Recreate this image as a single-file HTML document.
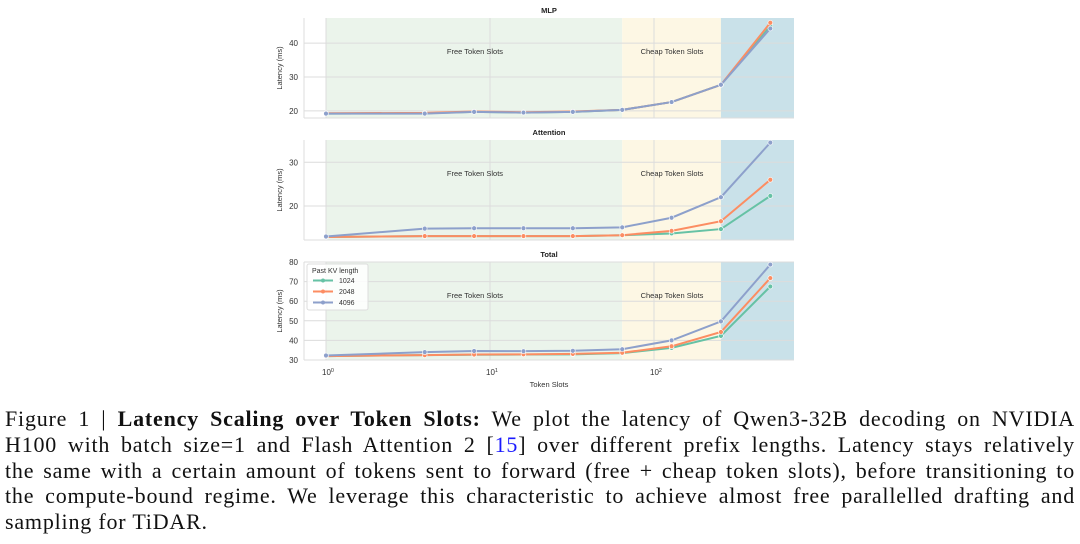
<!DOCTYPE html>
<html><head><meta charset="utf-8"><style>
body{margin:0;width:1080px;height:544px;background:#fff;overflow:hidden;font-family:"Liberation Sans",sans-serif}
#cap{position:absolute;left:5px;top:406px;width:1070px;font-family:"Liberation Serif",serif;font-size:22px;letter-spacing:0.8px;line-height:25.8px;color:#111}
#cap .ln{display:block;white-space:nowrap;text-align:justify;text-align-last:justify}
#cap .last{text-align-last:left}
#cap a{color:#1a1aff;text-decoration:none}
</style></head><body>
<svg id="chart" width="1080" height="400" style="position:absolute;left:0;top:0"></svg>
<div id="cap">
<span class="ln">Figure 1 | <b>Latency Scaling over Token Slots:</b> We plot the latency of Qwen3-32B decoding on NVIDIA</span>
<span class="ln">H100 with batch size=1 and Flash Attention 2 [<a>15</a>] over different prefix lengths. Latency stays relatively</span>
<span class="ln">the same with a certain amount of tokens sent to forward (free + cheap token slots), before transitioning to</span>
<span class="ln">the compute-bound regime. We leverage this characteristic to achieve almost free parallelled drafting and</span>
<span class="ln last">sampling for TiDAR.</span>
</div>
<script>
const tokenSlots=[1,4,8,16,32,64,128,256,512];
const seriesNames=["1024","2048","4096"];
const mlp1024=[19.2,19.3,19.7,19.5,19.7,20.3,22.6,27.7,45.0];
const mlp2048=[19.3,19.4,19.8,19.6,19.8,20.3,22.6,27.7,46.0];
const mlp4096=[19.2,19.2,19.7,19.5,19.7,20.3,22.6,27.7,44.3];
const att1024=[12.9,13.1,13.1,13.1,13.1,13.3,13.7,14.7,22.3];
const att2048=[12.9,13.1,13.1,13.1,13.1,13.3,14.3,16.5,26.0];
const att4096=[13.0,14.8,14.9,14.9,14.9,15.1,17.3,22.0,34.5];
const tot1024=[32.0,32.5,32.7,32.8,32.9,33.5,36.2,42.3,67.5];
const tot2048=[32.0,32.5,32.8,32.9,33.1,33.7,37.0,44.3,71.8];
const tot4096=[32.3,34.0,34.6,34.5,34.7,35.5,40.0,49.7,78.7];
const mlpTicks=[20,30,40];
const attTicks=[20,30];
const totTicks=[30,40,50,60,70,80];
const xTickExp=[0,1,2];
const colors=["#66c2a5","#fc8d62","#8da0cb"];
const NS="http://www.w3.org/2000/svg";
const svg=document.getElementById('chart');
const L=304,R=794;
const X=v=>326+164*Math.log10(v);
function el(t,a,p){const e=document.createElementNS(NS,t);for(const k in a)e.setAttribute(k,a[k]);(p||svg).appendChild(e);return e;}
function panel(title,top,bot,ymin,ymax,ticks,data,key,legend){
  const Y=v=>bot-(v-ymin)/(ymax-ymin)*(bot-top);
  const g=el('g',{});
  
  
  const regions=[[X(1),X(64),'#ebf4eb','free'],[X(64),X(256),'#fdf7e4','cheap'],[X(256),R,'#c9e1e9','compute']];
  regions.forEach(r=>{const e=el('rect',{x:r[0],y:top,width:r[1]-r[0],height:bot-top,fill:r[2]},g);
    });
  ticks.forEach(t=>{el('line',{x1:L,x2:R,y1:Y(t),y2:Y(t),stroke:'#dcdcdc','stroke-width':1},g);
    const tx=el('text',{x:298,y:Y(t)+3,'font-size':8,'text-anchor':'end',fill:'#333'},g);tx.textContent=t;});
  xTickExp.forEach(e=>el('line',{x1:X(10**e),x2:X(10**e),y1:top,y2:bot,stroke:'#dcdcdc','stroke-width':1},g));
  el('line',{x1:L,x2:R,y1:bot,y2:bot,stroke:'#ddd'},g);
  el('line',{x1:L,x2:L,y1:top,y2:bot,stroke:'#ddd'},g);
  const t=el('text',{x:549,y:top-5,'font-size':7.5,'font-weight':'bold','text-anchor':'middle',fill:'#222'},g);t.textContent=title;
  
  const yl=el('text',{transform:`translate(282,${(top+bot)/2}) rotate(-90)`,'font-size':7.5,'text-anchor':'middle',fill:'#333'},g);yl.textContent='Latency (ms)';
  
  const ly=top+36;
  const a=el('text',{x:475,y:ly,'font-size':7.5,'text-anchor':'middle',fill:'#333'},g);a.textContent='Free Token Slots';
  const b=el('text',{x:672,y:ly,'font-size':7.5,'text-anchor':'middle',fill:'#333'},g);b.textContent='Cheap Token Slots';
  data.forEach((s,i)=>{
    const pts=tokenSlots.map((x,j)=>X(x)+','+Y(s[j])).join(' ');
    const pl=el('polyline',{points:pts,fill:'none',stroke:colors[i],'stroke-width':2},g);
    
    tokenSlots.forEach((x,j)=>{const c=el('circle',{cx:X(x),cy:Y(s[j]),r:2.4,fill:colors[i],stroke:'#fff','stroke-width':0.6},g);
      });
  });
  if(legend){
    const lg=el('g',{},g);
    el('rect',{x:307,y:264,width:61,height:46,fill:'#fff','fill-opacity':0.85,stroke:'#ddd',rx:2},lg);
    const lt=el('text',{x:312,y:273,'font-size':7,fill:'#333'},lg);lt.textContent='Past KV length';
    seriesNames.forEach((n,i)=>{const yy=283+i*11;
      el('line',{x1:313,x2:333,y1:yy-2.5,y2:yy-2.5,stroke:colors[i],'stroke-width':2},lg);
      el('circle',{cx:323,cy:yy-2.5,r:2,fill:colors[i]},lg);
      const tt=el('text',{x:339,y:yy,'font-size':7,fill:'#333'},lg);tt.textContent=n;
      });
  }
}
panel('MLP',18,118,17.9,47.4,mlpTicks,[mlp1024,mlp2048,mlp4096],'mlp',false);
panel('Attention',140,240,12.2,35.1,attTicks,[att1024,att2048,att4096],'attention',false);
panel('Total',262,360,30,80,totTicks,[tot1024,tot2048,tot4096],'total',true);
xTickExp.forEach(e=>{const t=el('text',{x:X(10**e)-4,y:375,'font-size':8,fill:'#333'});t.textContent='10';
  const s=el('tspan',{dy:-3,'font-size':5.5});s.textContent=e;t.appendChild(s);});
const xl=el('text',{x:549,y:387,'font-size':7.5,'text-anchor':'middle',fill:'#333'});xl.textContent='Token Slots';


</script>
</body></html>
